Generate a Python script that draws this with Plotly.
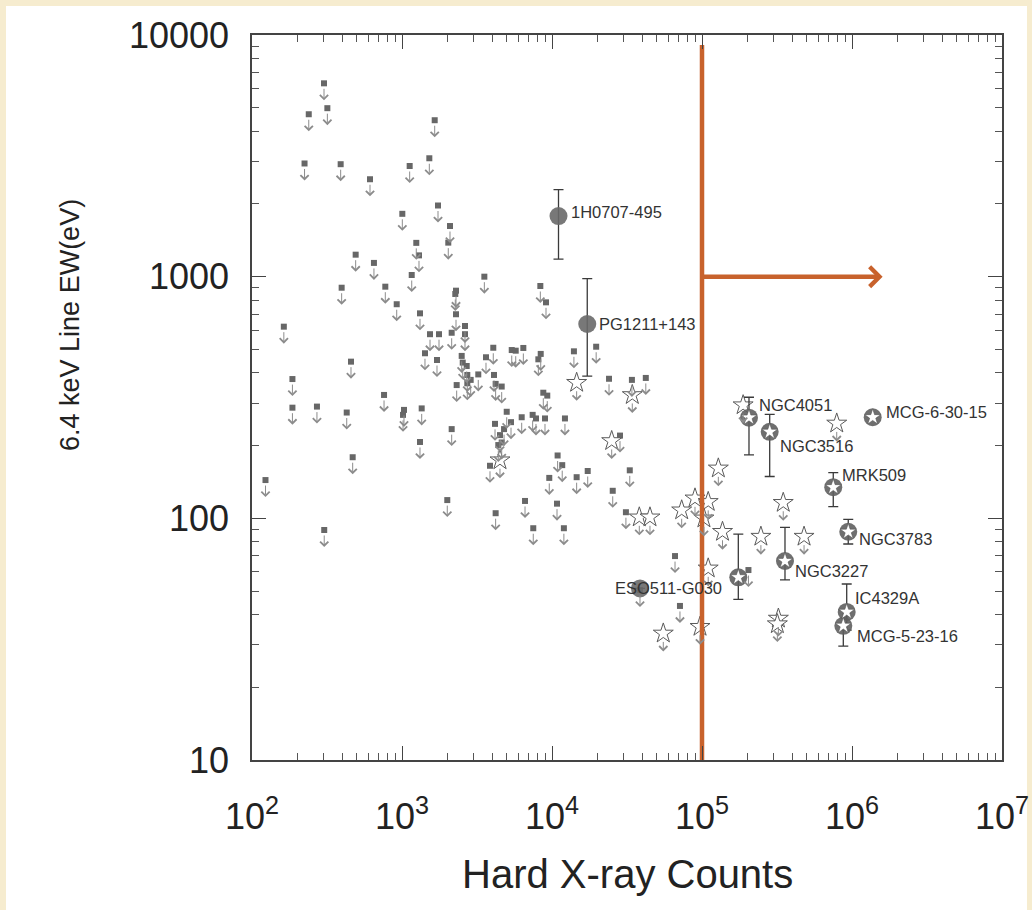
import numpy as np
import plotly.graph_objects as go

# ---------------- data ----------------
# upper limits (grey squares with down arrows)
ul_x = [302, 239, 318, 224, 390, 612, 1125, 1521, 1652, 1005,
        1738, 2089, 1245, 1298, 2035, 491, 650, 1161, 3540, 8360,
        2291, 774, 9120, 19700, 14000, 8410, 5390, 5730, 6440, 24000,
        34100, 42200, 4620, 8750, 9300, 396, 922, 2266, 2291, 1318,
        163, 2630, 1537, 1765, 2144, 2630, 1423, 1711, 2500, 2540,
        2700, 3630, 4060, 457, 186, 2725, 3225, 2870, 2315, 2725,
        4105, 4210, 759, 186, 271, 428, 1031, 1016, 1353, 4990,
        4170, 4790, 2144, 1318, 469, 4385, 3860, 123, 2004, 4210,
        303, 8110, 5330, 6280, 7430, 7820, 8980, 12200, 4500, 28400,
        10900, 11700, 9590, 14600, 17300, 33000, 6610, 10800, 25400, 31100,
        7500, 12000, 66100, 71300, 204000, 38600, 4620]
ul_y = [6310, 4700, 4980, 2940, 2920, 2530, 2870, 3090, 4440, 1820,
        1970, 1620, 1380, 1225, 1383, 1233, 1140, 1016, 1000, 915,
        875, 909, 783, 513, 491, 479, 497, 494, 507, 378,
        374, 381, 351, 331, 322, 900, 769, 848, 699, 705,
        621, 625, 578, 578, 586, 578, 482, 452, 470, 441,
        427, 464, 508, 445, 377, 392, 394, 374, 356, 362,
        392, 360, 324, 287, 290, 274, 281, 268, 285, 276,
        246, 234, 234, 207, 179, 201, 165, 144, 119, 105,
        89.5, 455, 250, 262, 268, 259, 259, 259, 221, 220,
        182, 166, 147, 148, 157, 158, 118, 115, 130, 106,
        91, 91, 69.8, 43.4, 61.1, 50.5, 206]

# upper limits (open stars with down arrows)
sul_x = [14600, 34300, 4500, 25000, 38200, 45000, 73200, 89800, 110000, 103000,
         137000, 128500, 188000, 791000, 348000, 247000, 479000, 110000, 97000, 55200,
         323000, 318000]
sul_y = [364, 324, 174, 209, 101, 101, 108, 121, 117, 100,
         88, 161, 294, 247, 116, 84, 84, 62.1, 35.6, 33.4,
         38.5, 36.5]

# detections (circle + star)
det_names = ["NGC4051", "NGC3516", "MCG-6-30-15", "MRK509", "NGC3783",
             "NGC3227", "IC4329A", "MCG-5-23-16", ""]
det_x = [205700, 282700, 1374000, 750000, 944000, 357500, 922000, 875000, 174600]
det_y = [261, 228, 262, 134.5, 88, 66.6, 41, 35.9, 57]
det_hi = [317, 269.5, 262, 154.5, 99, 91.8, 53.5, 41.8, 86]
det_lo = [183, 149, 262, 111.7, 78.3, 55.6, 34.5, 29.6, 46.2]
det_lx = [8, 8, 11, 7, 9, 8, 6, 12, 0]
det_ly = [13, -14, 5, 12, -7, -10, 14, -10, 0]

# detections (grey circles)
cir_names = ["1H0707-495", "PG1211+143", "ESO511-G030"]
cir_x = [11050, 17180, 38600]
cir_y = [1782, 637, 51.3]
cir_hi = [2290, 981, 51.3]
cir_lo = [1183, 388, 51.3]
cir_lx = [10, 10, -27]
cir_ly = [4, 0, 0]

x_ticks = [1e2, 1e3, 1e4, 1e5, 1e6, 1e7]
x_ticktext = ["10<sup>2</sup>", "10<sup>3</sup>", "10<sup>4</sup>",
              "10<sup>5</sup>", "10<sup>6</sup>", "10<sup>7</sup>"]
y_ticks = [10, 100, 1000, 10000]
y_ticktext = ["10", "100", "1000", "10000"]
cut_x = 1e5          # orange cut line
cut_top = 9100
arrow_y = 1000
arrow_end = 1.6e6

# ---------------- figure ----------------
fig = go.Figure()

GREY_SQ = "#676767"
ARROW_C = "#8c8c8c"
ERR_C = "#3a3a3a"
ORANGE = "#c8622c"

fig.add_trace(go.Scatter(
    x=ul_x, y=ul_y, mode="markers",
    marker=dict(symbol="square", size=6, color=GREY_SQ),
    hoverinfo="skip", showlegend=False))

fig.add_trace(go.Scatter(
    x=sul_x, y=sul_y, mode="markers",
    marker=dict(symbol="star", size=15, color="white",
                line=dict(color="#5a5a5a", width=1)),
    hoverinfo="skip", showlegend=False))

# circles with error bars
fig.add_trace(go.Scatter(
    x=cir_x, y=cir_y, mode="markers",
    marker=dict(symbol="circle", size=18, color="rgba(105,105,105,0.9)"),
    error_y=dict(type="data", symmetric=False,
                 array=[h - v for h, v in zip(cir_hi, cir_y)],
                 arrayminus=[v - l for v, l in zip(cir_y, cir_lo)],
                 color=ERR_C, thickness=1.3, width=5),
    hoverinfo="skip", showlegend=False))

# circle+star detections
fig.add_trace(go.Scatter(
    x=det_x, y=det_y, mode="markers",
    marker=dict(symbol="circle", size=18, color="rgba(95,95,95,0.9)"),
    error_y=dict(type="data", symmetric=False,
                 array=[h - v for h, v in zip(det_hi, det_y)],
                 arrayminus=[v - l for v, l in zip(det_y, det_lo)],
                 color=ERR_C, thickness=1.3, width=5),
    hoverinfo="skip", showlegend=False))
fig.add_trace(go.Scatter(
    x=det_x, y=det_y, mode="markers",
    marker=dict(symbol="star", size=12, color="white",
                line=dict(color="#555", width=0.6)),
    hoverinfo="skip", showlegend=False))

# orange vertical cut
fig.add_trace(go.Scatter(
    x=[cut_x, cut_x], y=[y_ticks[0], cut_top], mode="lines",
    line=dict(color=ORANGE, width=4.5),
    hoverinfo="skip", showlegend=False))

annotations = []
# down arrows for upper limits
for xv, yv in zip(ul_x, ul_y):
    annotations.append(dict(
        x=np.log10(xv), y=np.log10(yv), xref="x", yref="y",
        text="", showarrow=True, ax=0, ay=-13, yshift=-17,
        arrowhead=4, arrowsize=1.6, arrowwidth=1, arrowcolor=ARROW_C))
for xv, yv in zip(sul_x, sul_y):
    annotations.append(dict(
        x=np.log10(xv), y=np.log10(yv), xref="x", yref="y",
        text="", showarrow=True, ax=0, ay=-11, yshift=-18,
        arrowhead=4, arrowsize=1.6, arrowwidth=1, arrowcolor=ARROW_C))

LABEL_FONT = dict(family="Liberation Sans, Arial, sans-serif", size=16.5, color="#333")
for n, xv, yv, dx, dy in zip(det_names, det_x, det_y, det_lx, det_ly):
    if n:
        annotations.append(dict(
            x=np.log10(xv), y=np.log10(yv), xref="x", yref="y", text=n,
            showarrow=False, xanchor="left", yanchor="middle",
            xshift=dx, yshift=dy, font=LABEL_FONT))
for n, xv, yv, dx, dy in zip(cir_names, cir_x, cir_y, cir_lx, cir_ly):
    annotations.append(dict(
        x=np.log10(xv), y=np.log10(yv), xref="x", yref="y", text=n,
        showarrow=False, xanchor="left", yanchor="middle",
        xshift=dx, yshift=dy, font=LABEL_FONT))

# orange horizontal arrow
annotations.append(dict(
    x=np.log10(arrow_end), y=np.log10(arrow_y), xref="x", yref="y",
    ax=np.log10(cut_x), ay=np.log10(arrow_y), axref="x", ayref="y",
    text="", showarrow=True, arrowhead=4, arrowsize=0.85,
    arrowwidth=4.5, arrowcolor=ORANGE))

# axis titles
annotations.append(dict(
    x=0.5, y=-0.157, xref="paper", yref="paper", text="Hard X-ray Counts",
    showarrow=False, xanchor="center", yanchor="middle",
    font=dict(family="Liberation Sans, Arial, sans-serif", size=40, color="#222")))
annotations.append(dict(
    x=-0.2427, y=0.6, xref="paper", yref="paper", text="6.4 keV Line EW(eV)",
    showarrow=False, xanchor="center", yanchor="middle", textangle=-90,
    font=dict(family="Liberation Sans, Arial, sans-serif", size=27, color="#222")))

TICK_FONT = dict(family="Liberation Sans, Arial, sans-serif", size=36, color="#222")
axis_common = dict(
    type="log", showgrid=False, zeroline=False, showline=True,
    linecolor="#444", linewidth=1.5, mirror="allticks",
    ticks="inside", ticklen=14, tickwidth=1.3, tickcolor="#444",
    tickfont=TICK_FONT, tickmode="array", automargin=False,
    minor=dict(ticks="inside", ticklen=7, tickwidth=1, tickcolor="#555",
               dtick="D1", showgrid=False))

fig.update_xaxes(range=[2, 7], tickvals=x_ticks, ticktext=x_ticktext,
                 ticklabelstandoff=24, **axis_common)
fig.update_yaxes(range=[1, 4], tickvals=y_ticks, ticktext=y_ticktext,
                 ticklabelstandoff=14, **axis_common)

fig.update_layout(
    width=1032, height=910, autosize=False,
    margin=dict(l=252, r=30, t=35, b=150, pad=0),
    paper_bgcolor="#f6eccf", plot_bgcolor="white",
    annotations=annotations,
    shapes=[dict(type="rect", xref="paper", yref="paper",
                 x0=-0.328, x1=1.0333, y0=-0.21, y1=1.04,
                 fillcolor="white", line=dict(width=0), layer="below")],
)

fig.write_html("out.html")
